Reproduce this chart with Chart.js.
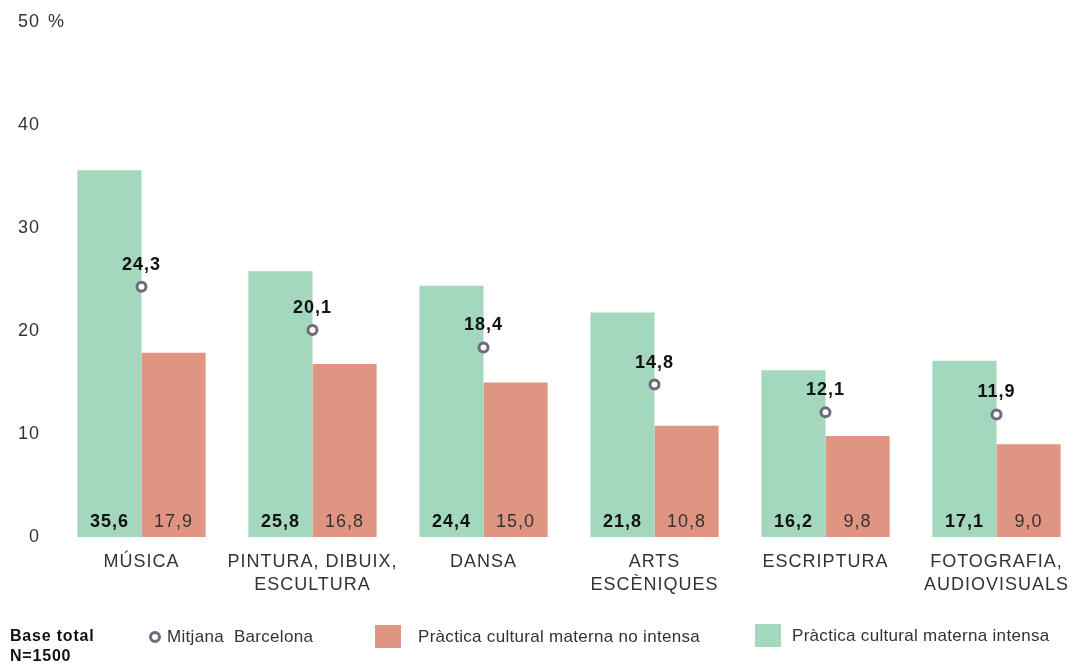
<!DOCTYPE html>
<html>
<head>
<meta charset="utf-8">
<script src="https://cdn.jsdelivr.net/npm/chart.js@4"></script>
<style>
  html, body { margin: 0; padding: 0; background: #fff; overflow: hidden; }
  #wrap { width: 1090px; height: 665px; position: relative; }
</style>
</head>
<body>
<div id="wrap"><canvas id="chart"></canvas></div>
<script>
var categories = ["MÚSICA", ["PINTURA, DIBUIX,", "ESCULTURA"], "DANSA", ["ARTS", "ESCÈNIQUES"], "ESCRIPTURA", ["FOTOGRAFIA,", "AUDIOVISUALS"]];
var intensa = [35.6, 25.8, 24.4, 21.8, 16.2, 17.1];
var noIntensa = [17.9, 16.8, 15.0, 10.8, 9.8, 9.0];
var mitjana = [24.3, 20.1, 18.4, 14.8, 12.1, 11.9];
var yTicks = [0, 10, 20, 30, 40, 50];

var green = "#a3d8bf";
var red = "#e09583";
var FONT = "'Liberation Sans', Arial, sans-serif";

function fmt(v) { return v.toFixed(1).replace(".", ","); }

// wider letter spacing for the whole chart (reference text looks stretched)
var spacingPlugin = {
  id: "spacing",
  beforeDraw: function(chart) { chart.ctx.letterSpacing = "1px"; },
  afterDraw: function(chart) { chart.ctx.letterSpacing = "0px"; }
};

var labelPlugin = {
  id: "labels",
  afterDatasetsDraw: function(chart) {
    var ctx = chart.ctx;
    var bottom = chart.chartArea.bottom;
    ctx.save();
    ctx.letterSpacing = "1px";
    ctx.textAlign = "center";
    ctx.textBaseline = "middle";
    // values inside the bars
    chart.getDatasetMeta(1).data.forEach(function(b, i) {
      ctx.font = "bold 18px " + FONT;
      ctx.fillStyle = "#111";
      ctx.fillText(fmt(intensa[i]), b.x, bottom - 15);
    });
    chart.getDatasetMeta(2).data.forEach(function(b, i) {
      ctx.font = "18px " + FONT;
      ctx.fillStyle = "#333";
      ctx.fillText(fmt(noIntensa[i]), b.x, bottom - 15);
    });
    // mitjana labels
    chart.getDatasetMeta(0).data.forEach(function(p, i) {
      ctx.font = "bold 18px " + FONT;
      ctx.fillStyle = "#111";
      ctx.fillText(fmt(mitjana[i]), p.x, p.y - 22);
    });
    // % unit next to top tick
    var y = chart.scales.y;
    ctx.font = "18px " + FONT;
    ctx.fillStyle = "#333";
    ctx.textAlign = "left";
    ctx.fillText("%", 48, y.getPixelForValue(50));

    // legend
    ctx.letterSpacing = "0.8px";
    ctx.font = "bold 16px " + FONT;
    ctx.fillStyle = "#111";
    ctx.fillText("Base total", 10, 637);
    ctx.fillText("N=1500", 10, 657);

    ctx.beginPath();
    ctx.arc(155, 637, 4.5, 0, Math.PI * 2);
    ctx.fillStyle = "#fff";
    ctx.fill();
    ctx.lineWidth = 3;
    ctx.strokeStyle = "#6b6b7d";
    ctx.stroke();

    ctx.letterSpacing = "0.3px";
    ctx.font = "17px " + FONT;
    ctx.fillStyle = "#333";
    ctx.fillText("Mitjana  Barcelona", 167, 637);

    ctx.fillStyle = red;
    ctx.fillRect(375, 625, 26, 23);
    ctx.fillStyle = "#333";
    ctx.fillText("Pràctica cultural materna no intensa", 418, 637);

    ctx.fillStyle = green;
    ctx.fillRect(755, 624, 26, 23);
    ctx.fillStyle = "#333";
    ctx.fillText("Pràctica cultural materna intensa", 792, 636);
    ctx.restore();
  }
};

new Chart(document.getElementById("chart"), {
  type: "bar",
  data: {
    labels: categories,
    datasets: [
      {
        type: "line",
        label: "Mitjana Barcelona",
        data: mitjana,
        showLine: false,
        pointStyle: "circle",
        pointRadius: 4.5,
        pointBorderWidth: 3,
        pointBorderColor: "#6b6b7d",
        pointBackgroundColor: "#fff"
      },
      {
        label: "Pràctica cultural materna intensa",
        data: intensa,
        backgroundColor: green,
        categoryPercentage: 0.75,
        barPercentage: 1.0
      },
      {
        label: "Pràctica cultural materna no intensa",
        data: noIntensa,
        backgroundColor: red,
        categoryPercentage: 0.75,
        barPercentage: 1.0
      }
    ]
  },
  options: {
    responsive: true,
    maintainAspectRatio: false,
    animation: false,
    layout: { padding: { top: 22, bottom: 63, left: 0, right: 8 } },
    plugins: {
      legend: { display: false },
      tooltip: { enabled: false }
    },
    scales: {
      x: {
        grid: { display: false },
        border: { display: false },
        ticks: {
          color: "#333",
          font: { family: FONT, size: 18, lineHeight: 1.25 },
          maxRotation: 0,
          autoSkip: false,
          padding: 6
        }
      },
      y: {
        min: 0,
        max: 50,
        afterFit: function(s) { s.width = 56; },
        afterBuildTicks: function(s) { s.ticks = yTicks.map(function(v) { return { value: v }; }); },
        grid: { display: false },
        border: { display: false },
        ticks: {
          color: "#333",
          padding: 8,
          font: { family: FONT, size: 18 }
        }
      }
    }
  },
  plugins: [spacingPlugin, labelPlugin]
});
</script>
</body>
</html>
